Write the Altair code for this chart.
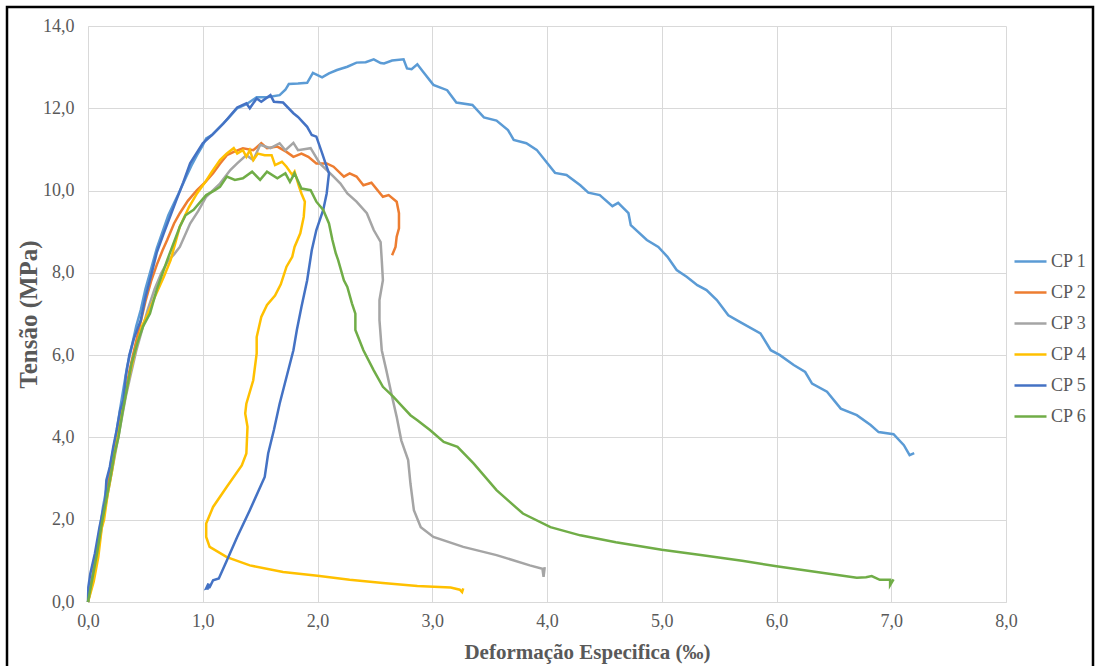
import altair as alt
import pandas as pd

series = ["CP 1", "CP 2", "CP 3", "CP 4", "CP 5", "CP 6"]
colors = ["#5B9BD5", "#ED7D31", "#A5A5A5", "#FFC000", "#4472C4", "#70AD47"]

cp1_x = [0, 0.03, 0.06, 0.1, 0.13, 0.17, 0.2, 0.24, 0.28, 0.31, 0.34, 0.38, 0.42, 0.46, 0.5, 0.55, 0.6, 0.65, 0.7, 0.75, 0.79, 0.85, 0.9, 0.95, 1.0, 1.03, 1.08, 1.15, 1.22, 1.3, 1.38, 1.47, 1.56, 1.67, 1.72, 1.75, 1.83, 1.91, 1.96, 2.04, 2.1, 2.17, 2.26, 2.34, 2.42, 2.49, 2.55, 2.58, 2.65, 2.75, 2.78, 2.82, 2.87, 2.92, 3.01, 3.13, 3.21, 3.35, 3.45, 3.56, 3.66, 3.71, 3.82, 3.91, 4.07, 4.17, 4.29, 4.36, 4.46, 4.57, 4.62, 4.71, 4.73, 4.87, 4.97, 5.05, 5.13, 5.22, 5.31, 5.39, 5.48, 5.58, 5.68, 5.86, 5.95, 6.03, 6.15, 6.25, 6.31, 6.44, 6.56, 6.70, 6.82, 6.89, 7.02, 7.11, 7.16, 7.20]
cp1_y = [0, 0.5, 1.0, 1.7, 2.3, 2.9, 3.4, 4.0, 4.7, 5.2, 5.7, 6.2, 6.7, 7.1, 7.6, 8.1, 8.6, 9.0, 9.4, 9.7, 9.93, 10.3, 10.6, 10.86, 11.1, 11.27, 11.35, 11.55, 11.75, 12.0, 12.1, 12.27, 12.27, 12.32, 12.45, 12.59, 12.6, 12.62, 12.86, 12.75, 12.85, 12.93, 13.01, 13.11, 13.12, 13.19, 13.1, 13.09, 13.16, 13.19, 12.97, 12.95, 13.07, 12.89, 12.57, 12.44, 12.14, 12.08, 11.78, 11.70, 11.47, 11.23, 11.15, 10.99, 10.43, 10.38, 10.13, 9.95, 9.89, 9.62, 9.70, 9.45, 9.16, 8.80, 8.63, 8.39, 8.07, 7.90, 7.70, 7.58, 7.34, 6.97, 6.81, 6.53, 6.12, 6.00, 5.76, 5.59, 5.31, 5.11, 4.70, 4.54, 4.30, 4.13, 4.08, 3.81, 3.57, 3.62]

cp2_x = [0, 0.04, 0.08, 0.12, 0.16, 0.2, 0.24, 0.28, 0.32, 0.36, 0.4, 0.45, 0.5, 0.55, 0.6, 0.65, 0.69, 0.75, 0.80, 0.87, 0.95, 1.02, 1.09, 1.15, 1.21, 1.28, 1.35, 1.44, 1.51, 1.56, 1.65, 1.73, 1.79, 1.86, 1.92, 1.99, 2.08, 2.14, 2.23, 2.28, 2.34, 2.40, 2.47, 2.57, 2.62, 2.69, 2.71, 2.71, 2.69, 2.68, 2.65]
cp2_y = [0, 0.6, 1.3, 2.0, 2.6, 3.2, 3.8, 4.4, 5.0, 5.6, 6.1, 6.7, 7.3, 7.8, 8.2, 8.55, 8.80, 9.2, 9.45, 9.75, 10.01, 10.2, 10.42, 10.65, 10.86, 10.95, 11.03, 10.98, 11.15, 11.03, 11.07, 10.94, 10.82, 10.90, 10.82, 10.66, 10.66, 10.58, 10.34, 10.42, 10.34, 10.13, 10.19, 9.85, 9.89, 9.73, 9.45, 9.08, 8.88, 8.63, 8.43]

cp3_x = [0, 0.05, 0.09, 0.13, 0.17, 0.21, 0.25, 0.29, 0.33, 0.37, 0.42, 0.47, 0.52, 0.58, 0.64, 0.7, 0.75, 0.80, 0.89, 0.96, 1.03, 1.15, 1.24, 1.30, 1.38, 1.44, 1.50, 1.59, 1.67, 1.72, 1.79, 1.83, 1.94, 2.02, 2.14, 2.20, 2.26, 2.34, 2.43, 2.49, 2.55, 2.56, 2.57, 2.54, 2.54, 2.56, 2.60, 2.65, 2.69, 2.73, 2.79, 2.81, 2.84, 2.90, 3.01, 3.27, 3.56, 3.85, 3.96, 3.97, 3.98]
cp3_y = [0, 0.6, 1.3, 2.0, 2.6, 3.2, 3.8, 4.4, 5.0, 5.5, 6.1, 6.6, 7.1, 7.6, 8.0, 8.3, 8.45, 8.63, 9.20, 9.5, 9.85, 10.17, 10.50, 10.66, 10.86, 10.74, 11.11, 11.03, 11.15, 10.98, 11.16, 10.98, 11.03, 10.66, 10.34, 10.17, 9.93, 9.73, 9.45, 9.04, 8.75, 8.31, 7.82, 7.34, 6.85, 6.12, 5.63, 4.99, 4.50, 3.93, 3.45, 2.88, 2.23, 1.82, 1.58, 1.34, 1.14, 0.89, 0.81, 0.61, 0.85]

cp4_x = [0, 0.05, 0.09, 0.12, 0.14, 0.17, 0.21, 0.25, 0.29, 0.33, 0.37, 0.42, 0.47, 0.52, 0.58, 0.66, 0.72, 0.80, 0.88, 0.95, 1.02, 1.08, 1.15, 1.21, 1.27, 1.30, 1.35, 1.38, 1.41, 1.44, 1.48, 1.54, 1.60, 1.63, 1.69, 1.73, 1.78, 1.80, 1.84, 1.86, 1.89, 1.88, 1.85, 1.80, 1.78, 1.73, 1.68, 1.63, 1.56, 1.51, 1.47, 1.47, 1.44, 1.38, 1.37, 1.39, 1.38, 1.34, 1.21, 1.09, 1.03, 1.03, 1.06, 1.21, 1.41, 1.70, 2.0, 2.28, 2.57, 2.87, 3.16, 3.24, 3.26, 3.27]
cp4_y = [0, 0.5, 1.1, 1.8, 2.0, 2.6, 3.2, 3.9, 4.5, 5.1, 5.6, 6.2, 6.7, 7.0, 7.4, 7.9, 8.31, 9.12, 9.6, 9.93, 10.2, 10.46, 10.74, 10.90, 11.03, 10.90, 10.98, 10.82, 10.98, 10.74, 10.90, 10.86, 10.86, 10.62, 10.70, 10.58, 10.38, 10.46, 10.09, 9.93, 9.73, 9.36, 8.96, 8.63, 8.39, 8.15, 7.72, 7.45, 7.22, 6.93, 6.44, 6.04, 5.39, 4.82, 4.58, 4.26, 3.61, 3.32, 2.80, 2.31, 1.91, 1.58, 1.34, 1.09, 0.89, 0.73, 0.64, 0.54, 0.46, 0.39, 0.35, 0.30, 0.24, 0.33]

cp5_x = [0, 0.003, 0.02, 0.06, 0.10, 0.15, 0.16, 0.19, 0.22, 0.25, 0.28, 0.31, 0.33, 0.36, 0.40, 0.46, 0.50, 0.555, 0.60, 0.66, 0.77, 0.83, 0.89, 1.0, 1.08, 1.18, 1.30, 1.38, 1.41, 1.47, 1.51, 1.59, 1.62, 1.70, 1.79, 1.83, 1.91, 1.95, 1.99, 2.04, 2.07, 2.10, 2.08, 2.05, 1.99, 1.95, 1.91, 1.86, 1.82, 1.79, 1.73, 1.67, 1.62, 1.57, 1.54, 1.41, 1.30, 1.21, 1.14, 1.09, 1.06, 1.03, 1.05, 1.04]
cp5_y = [0, 0.36, 0.69, 1.18, 1.82, 2.47, 2.96, 3.28, 3.77, 4.18, 4.66, 4.91, 5.5, 6.0, 6.4, 6.85, 7.4, 7.99, 8.5, 8.96, 9.77, 10.2, 10.66, 11.15, 11.35, 11.63, 12.02, 12.12, 12.0, 12.24, 12.16, 12.32, 12.16, 12.14, 11.88, 11.79, 11.55, 11.35, 11.31, 10.91, 10.66, 10.42, 9.93, 9.53, 9.04, 8.55, 7.82, 7.17, 6.61, 6.12, 5.47, 4.82, 4.18, 3.61, 3.04, 2.23, 1.58, 1.01, 0.57, 0.53, 0.36, 0.33, 0.45, 0.30]

cp6_x = [0, 0.04, 0.08, 0.12, 0.16, 0.2, 0.23, 0.265, 0.3, 0.34, 0.38, 0.43, 0.48, 0.54, 0.6, 0.69, 0.80, 0.85, 0.92, 1.03, 1.10, 1.15, 1.21, 1.28, 1.35, 1.43, 1.50, 1.56, 1.65, 1.72, 1.76, 1.80, 1.86, 1.94, 1.99, 2.05, 2.10, 2.13, 2.16, 2.18, 2.23, 2.26, 2.30, 2.33, 2.33, 2.40, 2.49, 2.57, 2.66, 2.73, 2.81, 2.87, 2.98, 3.10, 3.22, 3.36, 3.56, 3.79, 4.03, 4.29, 4.6, 5.0, 5.34, 5.7, 6.0, 6.35, 6.70, 6.78, 6.83, 6.90, 6.99, 6.99, 7.02]
cp6_y = [0, 0.6, 1.2, 1.9, 2.5, 3.1, 3.6, 4.0, 4.6, 5.2, 5.8, 6.3, 6.7, 7.01, 7.6, 8.31, 9.12, 9.4, 9.53, 9.89, 10.0, 10.09, 10.34, 10.26, 10.30, 10.46, 10.26, 10.46, 10.30, 10.42, 10.21, 10.42, 10.05, 10.01, 9.73, 9.53, 9.20, 8.80, 8.47, 8.31, 7.82, 7.66, 7.26, 7.01, 6.61, 6.12, 5.63, 5.23, 4.99, 4.78, 4.54, 4.42, 4.18, 3.89, 3.77, 3.37, 2.72, 2.15, 1.82, 1.62, 1.45, 1.27, 1.14, 1.0, 0.87, 0.73, 0.59, 0.60, 0.63, 0.54, 0.54, 0.41, 0.55]

x_ticks = [0, 1, 2, 3, 4, 5, 6, 7, 8]
y_ticks = [0, 2, 4, 6, 8, 10, 12, 14]

xs = [cp1_x, cp2_x, cp3_x, cp4_x, cp5_x, cp6_x]
ys = [cp1_y, cp2_y, cp3_y, cp4_y, cp5_y, cp6_y]
rows = []
for k, (name, sx, sy) in enumerate(zip(series, xs, ys)):
    for i, (a, b) in enumerate(zip(sx, sy)):
        rows.append({"serie": name, "k": k, "i": i, "x": a, "y": b})
df = pd.DataFrame(rows)

FONT = "'Liberation Serif', 'Times New Roman', Times, serif"
GRAY = "#595959"
GRID = "#d9d9d9"
lab = "replace(format(datum.value, '.1f'), '.', ',')"

lines = alt.Chart(df).mark_line(strokeWidth=2.5, interpolate="linear").encode(
    x=alt.X("x:Q", scale=alt.Scale(domain=[0, 8], nice=False, zero=False),
            axis=alt.Axis(values=x_ticks, labelExpr=lab, grid=True, gridColor=GRID,
                          domainColor=GRID, ticks=False, labelFont=FONT, labelFontSize=18,
                          labelColor=GRAY, labelPadding=10, labelFlush=False,
                          title="Deformação Especifica (‰)", titleFont=FONT, titleFontSize=21,
                          titleFontWeight="bold", titleColor=GRAY, titleX=499, titleY=56,
                          titleBaseline="alphabetic", titleAlign="center")),
    y=alt.Y("y:Q", scale=alt.Scale(domain=[0, 14], nice=False),
            axis=alt.Axis(values=y_ticks, labelExpr=lab, grid=True, gridColor=GRID,
                          domainColor=GRID, ticks=False, labelFont=FONT, labelFontSize=18,
                          labelColor=GRAY, labelPadding=14, labelFlush=False,
                          title="Tensão (MPa)", titleFont=FONT, titleFontSize=25,
                          titleFontWeight="bold", titleColor=GRAY, titleX=-52, titleY=288,
                          titleAngle=270, titleBaseline="alphabetic", titleAlign="center")),
    color=alt.Color("serie:N", scale=alt.Scale(domain=series, range=colors),
                    legend=alt.Legend(title=None, orient="none", legendX=925, legendY=220,
                                      symbolType="stroke", symbolSize=1024, symbolStrokeWidth=2.5,
                                      labelFont=FONT, labelFontSize=18, labelColor=GRAY,
                                      labelOffset=3, clipHeight=31, rowPadding=0, padding=0)),
    order=alt.Order("i:Q"),
    detail="k:N",
)

frame = alt.Chart(pd.DataFrame({"a": [0]})).mark_rect(
    fill="white", fillOpacity=0, stroke="black", strokeWidth=2.5
).encode(x=alt.value(-81), x2=alt.value(1005), y=alt.value(-19), y2=alt.value(650))

chart = alt.layer(lines, frame).properties(
    width=918, height=576,
    autosize=alt.AutoSizeParams(type="none"),
    padding={"left": 88, "top": 26, "right": 91, "bottom": 64},
    background="white",
).configure_view(strokeWidth=0)

chart.save("out.html", embed_options={"renderer": "svg", "actions": False})
